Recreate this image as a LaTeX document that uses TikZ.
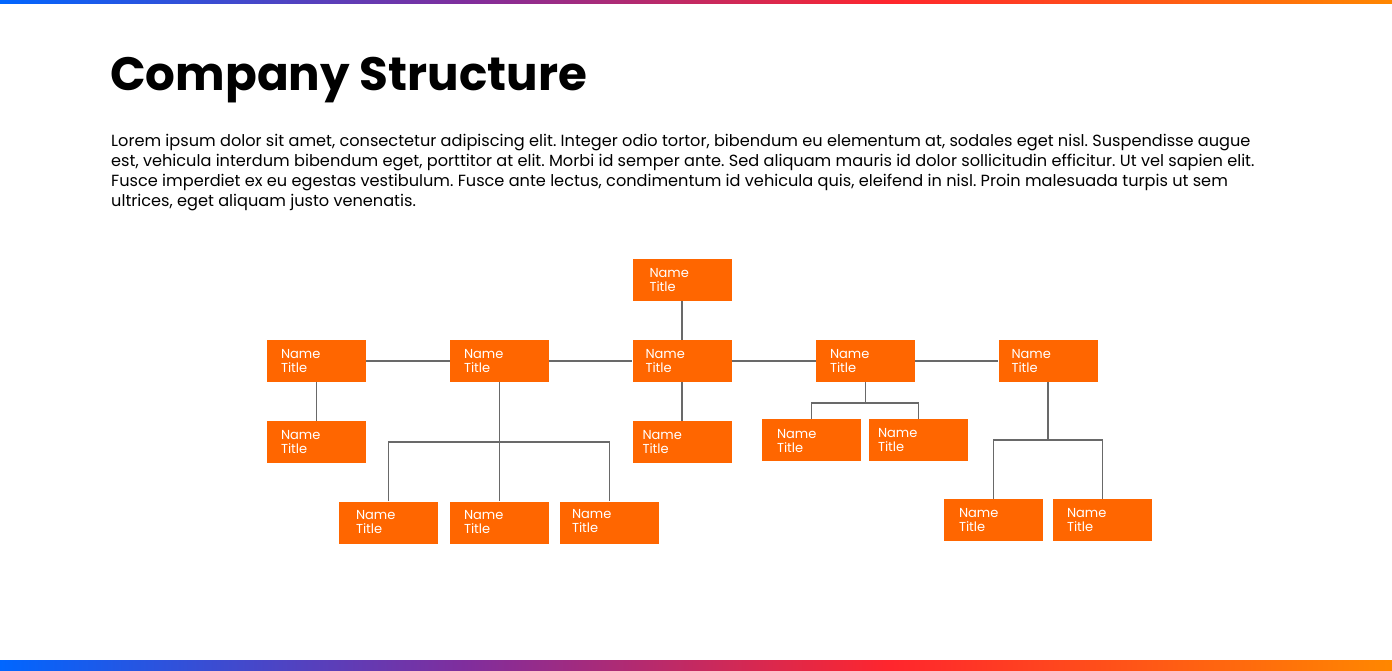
\documentclass[tikz,border=0pt]{standalone}
\usepackage{fontspec}
\setmainfont{Poppins}
\definecolor{gblue}{RGB}{0,102,255}
\definecolor{gpurp}{RGB}{130,45,155}
\definecolor{gred}{RGB}{255,38,45}
\definecolor{gorange}{RGB}{255,135,0}
\definecolor{boxor}{RGB}{255,102,0}
\definecolor{conng}{RGB}{105,105,105}
\pgfdeclarehorizontalshading{brandbar}{100bp}{color(0bp)=(gblue); color(25bp)=(gblue); color(42bp)=(gpurp); color(57bp)=(gred); color(75bp)=(gorange); color(100bp)=(gorange)}
\tikzset{
  orgbox/.style={fill=boxor, draw=none, minimum width=99pt, minimum height=42pt, inner sep=0pt},
  lbl/.style={text=white, anchor=west, align=left, inner sep=0pt, font=\fontsize{13}{14}\selectfont},
  conn/.style={draw=conng, line width=1.4pt},
}
\frenchspacing
\begin{document}
\begin{tikzpicture}[x=1pt,y=-1pt]
\useasboundingbox (0,0) rectangle (1392,670);
\fill[white] (0,0) rectangle (1392,670);
\fill[shading=brandbar] (0,0) rectangle (1392,3);
\fill[shading=brandbar] (0,660) rectangle (1392,670);

\node[anchor=base west, inner sep=0pt, font=\fontsize{46.8}{50}\selectfont\bfseries] (title) at (110,90) {Company Structure};
\node[anchor=north west, inner sep=0pt, align=left, font=\fontsize{16.15}{20}\selectfont\frenchspacing] (body) at (111,134.5) {Lorem ipsum dolor sit amet, consectetur adipiscing elit. Integer odio tortor, bibendum eu elementum at, sodales eget nisl. Suspendisse augue\\
est, vehicula interdum bibendum eget, porttitor at elit. Morbi id semper ante. Sed aliquam mauris id dolor sollicitudin efficitur. Ut vel sapien elit.\\
Fusce imperdiet ex eu egestas vestibulum. Fusce ante lectus, condimentum id vehicula quis, eleifend in nisl. Proin malesuada turpis ut sem\\
ultrices, eget aliquam justo venenatis.};

% boxes
\node[orgbox] (top) at (682,280) {};
\node[orgbox] (A) at (316.5,361) {};
\node[orgbox] (B) at (499.5,361) {};
\node[orgbox] (C) at (682,361) {};
\node[orgbox] (D) at (865.5,361) {};
\node[orgbox] (E) at (1048,361) {};
\node[orgbox] (Ac) at (316.5,442) {};
\node[orgbox] (Cc) at (682,442) {};
\node[orgbox] (D1) at (811.5,440) {};
\node[orgbox] (D2) at (918.5,440) {};
\node[orgbox] (B1) at (388.5,522.5) {};
\node[orgbox] (B2) at (499.5,522.5) {};
\node[orgbox] (B3) at (609.5,522.5) {};
\node[orgbox] (E1) at (993.5,520) {};
\node[orgbox] (E2) at (1102.5,520) {};

% labels
\node[lbl] (topl) at ([xshift=17pt]top.west) {Name\\Title};
\node[lbl] (Al) at ([xshift=14pt]A.west) {Name\\Title};
\node[lbl] (Bl) at ([xshift=14pt]B.west) {Name\\Title};
\node[lbl] (Cl) at ([xshift=13pt]C.west) {Name\\Title};
\node[lbl] (Dl) at ([xshift=14pt]D.west) {Name\\Title};
\node[lbl] (El) at ([xshift=13pt]E.west) {Name\\Title};
\node[lbl] (Acl) at ([xshift=14pt]Ac.west) {Name\\Title};
\node[lbl] (Ccl) at ([xshift=10pt]Cc.west) {Name\\Title};
\node[lbl] (D1l) at ([xshift=15pt,yshift=-1pt]D1.west) {Name\\Title};
\node[lbl] (D2l) at ([xshift=9pt]D2.west) {Name\\Title};
\node[lbl] (B1l) at ([xshift=17pt]B1.west) {Name\\Title};
\node[lbl] (B2l) at ([xshift=14pt]B2.west) {Name\\Title};
\node[lbl] (B3l) at ([xshift=12pt,yshift=1pt]B3.west) {Name\\Title};
\node[lbl] (E1l) at ([xshift=15pt]E1.west) {Name\\Title};
\node[lbl] (E2l) at ([xshift=14pt]E2.west) {Name\\Title};

% junctions
\coordinate (Bj) at (499.5,442);
\coordinate (Dj) at (865.5,403);
\coordinate (Ej) at (1048,440);

% connectors
\draw[conn] (A.east) -- (B.west);
\draw[conn] (B.east) -- (C.west);
\draw[conn] (C.east) -- (D.west);
\draw[conn] (D.east) -- (E.west);
\draw[conn] (top.south) -- (C.north);
\draw[conn] (C.south) -- (Cc.north);
\draw[conn] (A.south) -- (Ac.north);
\draw[conn] (B.south) -- (B2.north);
\draw[conn] (B1.north) |- (Bj) -| (B3.north);
\draw[conn] (D.south) -- (Dj);
\draw[conn] (D1.north) |- (Dj) -| (D2.north);
\draw[conn] (E.south) -- (Ej);
\draw[conn] (E1.north) |- (Ej) -| (E2.north);
\end{tikzpicture}
\end{document}
